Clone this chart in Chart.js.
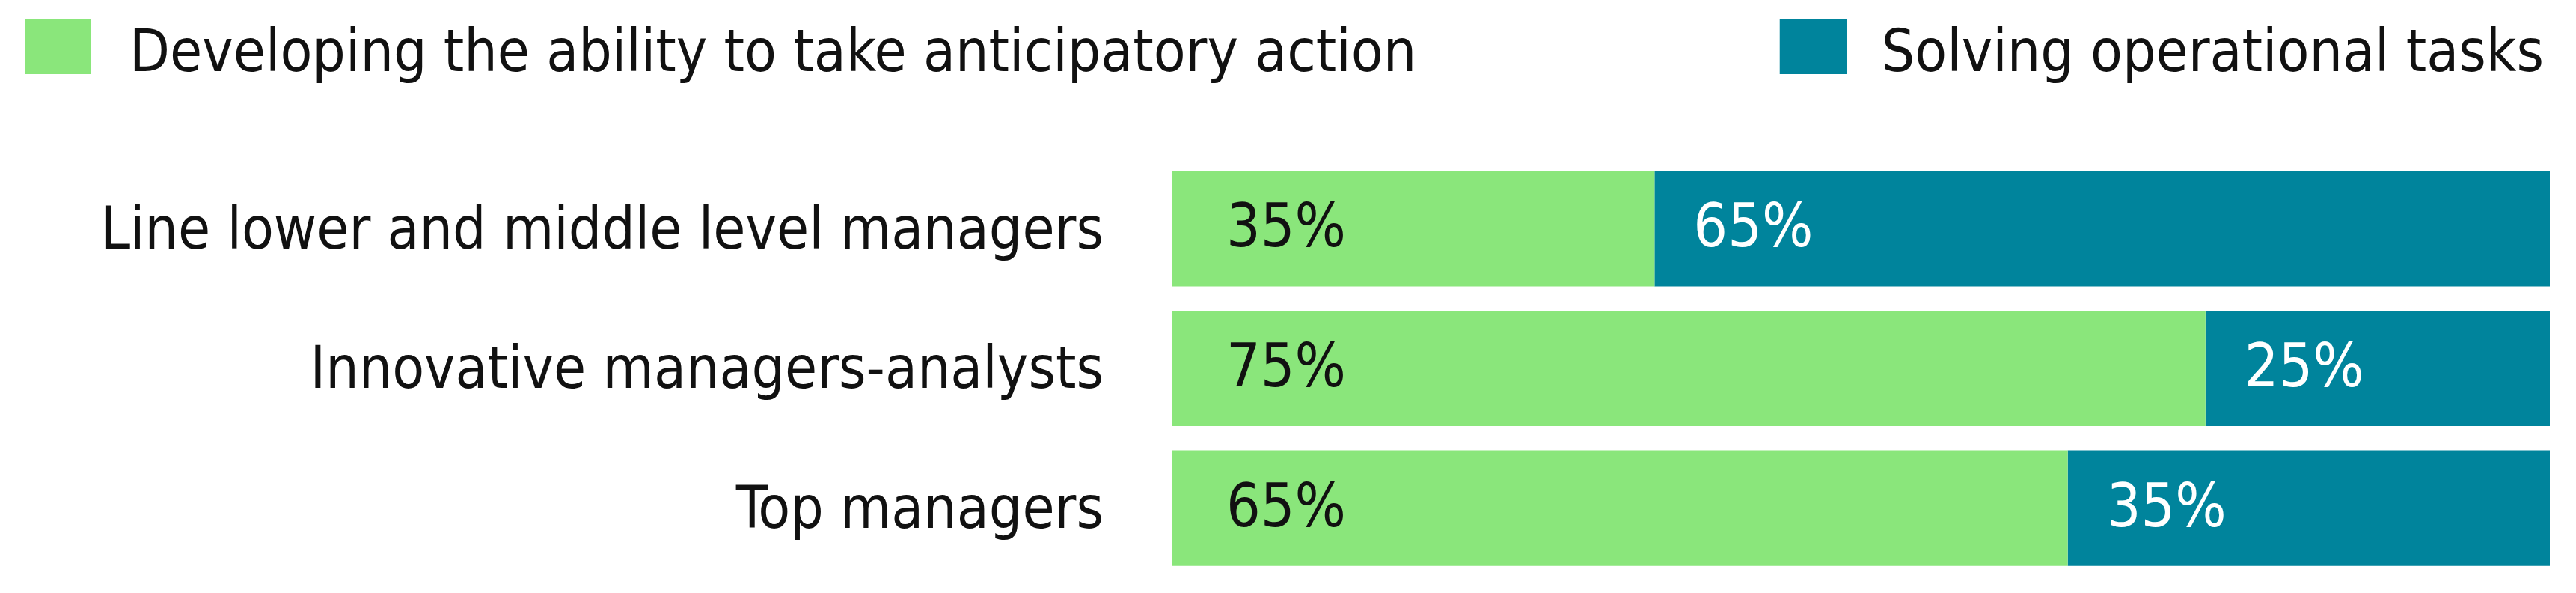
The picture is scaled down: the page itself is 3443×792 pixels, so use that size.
<!DOCTYPE html>
<html>
<head>
<meta charset="utf-8">
<script src="https://cdn.jsdelivr.net/npm/chart.js@4"></script>
<style>
  html, body { margin: 0; padding: 0; background: #fff; }
  #wrap { position: relative; width: 3443px; height: 792px; }
</style>
</head>
<body>
<div id="wrap"><canvas id="chart"></canvas></div>
<script>
"use strict";

const categories = [
  "Line lower and middle level managers",
  "Innovative managers-analysts",
  "Top managers",
];
const seriesNames = [
  "Developing the ability to take anticipatory action",
  "Solving operational tasks",
];
const anticipatory = [35, 75, 65];
const operational = [65, 25, 35];

const green = "#8ae67b";
const teal = "#00849c";
const FONT = "'DejaVu Sans Condensed', sans-serif";
const SIZE = 78;

// Value labels sit near the left end of every segment.
const segmentLabels = {
  id: "segmentLabels",
  afterDatasetsDraw(chart) {
    const ctx = chart.ctx;
    ctx.save();
    ctx.font = `80px ${FONT}`;
    ctx.textAlign = "left";
    ctx.textBaseline = "alphabetic";
    chart.data.datasets.forEach((ds, i) => {
      const meta = chart.getDatasetMeta(i);
      ctx.fillStyle = i === 0 ? "#111" : "#fff";
      const off = i === 0 ? 72 : 52;
      meta.data.forEach((bar, j) => {
        ctx.fillText(`${ds.data[j]}%`, bar.base + off, bar.y + 24);
      });
    });
    ctx.restore();
  },
};

// Legend: first item flush left, second flush right.
const splitLegend = {
  id: "splitLegend",
  afterDraw(chart) {
    const ctx = chart.ctx;
    const ds = chart.data.datasets;
    ctx.save();
    ctx.font = `${SIZE}px ${FONT}`;
    ctx.textBaseline = "alphabetic";
    ctx.textAlign = "left";
    // left item
    ctx.fillStyle = ds[0].backgroundColor;
    ctx.fillRect(33, 25, 88, 74);
    ctx.fillStyle = "#111";
    ctx.fillText(ds[0].label, 173, 95);
    // right item
    const w = ctx.measureText(ds[1].label).width;
    const tx = 3400 - w;
    ctx.fillStyle = ds[1].backgroundColor;
    ctx.fillRect(tx - 46 - 90, 25, 90, 74);
    ctx.fillStyle = "#111";
    ctx.fillText(ds[1].label, tx, 95);
    ctx.restore();
  },
};

new Chart(document.getElementById("chart"), {
  type: "bar",
  data: {
    labels: categories,
    datasets: [
      { label: seriesNames[0], data: anticipatory, backgroundColor: green },
      { label: seriesNames[1], data: operational, backgroundColor: teal },
    ],
  },
  options: {
    indexAxis: "y",
    responsive: true,
    maintainAspectRatio: false,
    animation: false,
    layout: { padding: { top: 212, bottom: 20, left: 0, right: 35 } },
    datasets: { bar: { barPercentage: 0.826, categoryPercentage: 1 } },
    plugins: { legend: { display: false }, tooltip: { enabled: false } },
    scales: {
      x: { stacked: true, min: 0, max: 100, display: false },
      y: {
        stacked: true,
        grid: { display: false, drawTicks: false },
        border: { display: false },
        ticks: {
          color: "#111",
          padding: 92,
          labelOffset: 6,
          font: { family: FONT, size: SIZE },
        },
        afterFit: (scale) => {
          // fixed axis width so the bars start where the reference's do;
          // drop the label padding that would otherwise eat the bottom
          scale.width = 1567;
          scale.paddingTop = 0;
          scale.paddingBottom = 0;
        },
      },
    },
  },
  plugins: [segmentLabels, splitLegend],
});
</script>
</body>
</html>
